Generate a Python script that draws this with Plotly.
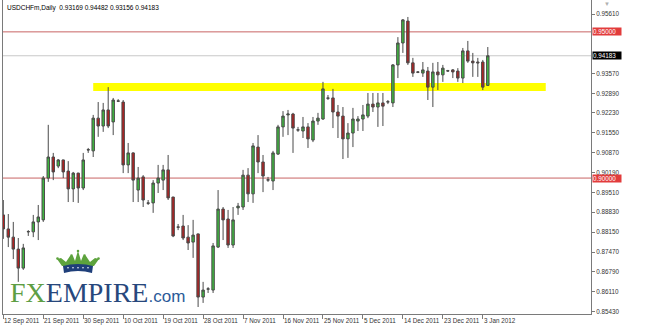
import plotly.graph_objects as go
import pandas as pd

# ---------------- data ----------------
symbol_title = "USDCHFm,Daily  0.93169 0.94482 0.93156 0.94183"

_days = pd.date_range("2011-09-12", "2012-01-04", freq="D")
dates = [d for d in _days if d.weekday() != 5 and not (d.month == 12 and d.day == 25)]

opens = [0.8874, 0.8826, 0.8798, 0.8757, 0.8692, 0.8816, 0.8816, 0.8850, 0.8857, 0.9000,
         0.9072, 0.9041, 0.9062, 0.9024, 0.8963, 0.9017, 0.8966, 0.9096, 0.9093, 0.9205,
         0.9178, 0.9233, 0.9192, 0.9264, 0.9260, 0.9045, 0.9086, 0.8959, 0.9004, 0.8915,
         0.8915, 0.8983, 0.8993, 0.9028, 0.8935, 0.8833, 0.8836, 0.8798, 0.8781, 0.8809,
         0.8593, 0.8620, 0.8617, 0.8764, 0.8894, 0.8860, 0.8771, 0.8898, 0.8901, 0.9010,
         0.8946, 0.9106, 0.9055, 0.8993, 0.8990, 0.9082, 0.9175, 0.9216, 0.9219, 0.9164,
         0.9161, 0.9175, 0.9130, 0.9195, 0.9202, 0.9274, 0.9274, 0.9226, 0.9212, 0.9134,
         0.9154, 0.9195, 0.9202, 0.9212, 0.9253, 0.9243, 0.9257, 0.9260, 0.9257, 0.9387,
         0.9462, 0.9537, 0.9394, 0.9363, 0.9359, 0.9366, 0.9311, 0.9363, 0.9353, 0.9366,
         0.9370, 0.9366, 0.9342, 0.9435, 0.9400, 0.9397, 0.9397, 0.93169]
highs = [0.8925, 0.8877, 0.8850, 0.8795, 0.8775, 0.8822, 0.8874, 0.8908, 0.9007, 0.9182,
         0.9086, 0.9065, 0.9063, 0.9058, 0.9021, 0.9018, 0.9086, 0.9103, 0.9216, 0.9260,
         0.9257, 0.9311, 0.9274, 0.9270, 0.9267, 0.9120, 0.9088, 0.9038, 0.9010, 0.8925,
         0.8993, 0.9045, 0.9045, 0.9079, 0.8936, 0.8843, 0.8874, 0.8839, 0.8857, 0.8810,
         0.8645, 0.8627, 0.8778, 0.8959, 0.8901, 0.8891, 0.8901, 0.8915, 0.9028, 0.9034,
         0.9120, 0.9147, 0.9079, 0.9004, 0.9093, 0.9182, 0.9229, 0.9233, 0.9223, 0.9175,
         0.9209, 0.9188, 0.9209, 0.9223, 0.9329, 0.9284, 0.9305, 0.9250, 0.9243, 0.9188,
         0.9240, 0.9212, 0.9250, 0.9291, 0.9291, 0.9291, 0.9291, 0.9267, 0.9390, 0.9482,
         0.9544, 0.9551, 0.9411, 0.9366, 0.9397, 0.9380, 0.9394, 0.9397, 0.9387, 0.9370,
         0.9373, 0.9376, 0.9445, 0.9469, 0.9428, 0.9411, 0.9404, 0.94482]
lows = [0.8792, 0.8764, 0.8723, 0.8645, 0.8686, 0.8802, 0.8798, 0.8788, 0.8850, 0.8987,
        0.8993, 0.9034, 0.9000, 0.8918, 0.8918, 0.8915, 0.8959, 0.9086, 0.9072, 0.9141,
        0.9158, 0.9171, 0.9147, 0.9260, 0.9017, 0.9017, 0.8918, 0.8918, 0.8901, 0.8908,
        0.8881, 0.8949, 0.8959, 0.8925, 0.8798, 0.8822, 0.8788, 0.8754, 0.8727, 0.8559,
        0.8573, 0.8607, 0.8607, 0.8761, 0.8788, 0.8761, 0.8761, 0.8874, 0.8891, 0.8918,
        0.8915, 0.9017, 0.8952, 0.8987, 0.8959, 0.9079, 0.9141, 0.9147, 0.9086, 0.9158,
        0.9137, 0.9103, 0.9123, 0.9182, 0.9199, 0.9267, 0.9171, 0.9137, 0.9065, 0.9069,
        0.9106, 0.9161, 0.9161, 0.9205, 0.9226, 0.9175, 0.9178, 0.9253, 0.9243, 0.9342,
        0.9428, 0.9387, 0.9346, 0.9359, 0.9346, 0.9267, 0.9243, 0.9301, 0.9329, 0.9363,
        0.9342, 0.9329, 0.9325, 0.9394, 0.9346, 0.9346, 0.9301, 0.93156]
closes = [0.8826, 0.8798, 0.8757, 0.8692, 0.8761, 0.8817, 0.8850, 0.8867, 0.9000, 0.9072,
          0.9021, 0.9062, 0.9021, 0.8963, 0.9017, 0.8966, 0.9062, 0.9097, 0.9205, 0.9178,
          0.9233, 0.9178, 0.9267, 0.9263, 0.9045, 0.9086, 0.8993, 0.9000, 0.8925, 0.8914,
          0.8983, 0.9000, 0.9028, 0.8932, 0.8802, 0.8832, 0.8795, 0.8778, 0.8805, 0.8593,
          0.8617, 0.8621, 0.8768, 0.8894, 0.8857, 0.8771, 0.8857, 0.8904, 0.9010, 0.8946,
          0.9110, 0.9055, 0.9007, 0.8994, 0.9086, 0.9175, 0.9212, 0.9219, 0.9171, 0.9165,
          0.9175, 0.9134, 0.9195, 0.9205, 0.9305, 0.9273, 0.9226, 0.9212, 0.9134, 0.9154,
          0.9202, 0.9202, 0.9216, 0.9253, 0.9243, 0.9257, 0.9246, 0.9261, 0.9387, 0.9462,
          0.9541, 0.9394, 0.9359, 0.9362, 0.9370, 0.9311, 0.9363, 0.9353, 0.9376, 0.9367,
          0.9363, 0.9342, 0.9435, 0.9400, 0.9394, 0.9394, 0.9311, 0.94183]

x_tick_index = [0, 8, 16, 24, 32, 40, 48, 56, 64, 72, 80, 88, 96]
x_tick_labels = ["12 Sep 2011", "21 Sep 2011", "30 Sep 2011", "10 Oct 2011", "19 Oct 2011",
                 "28 Oct 2011", "7 Nov 2011", "16 Nov 2011", "25 Nov 2011", "5 Dec 2011",
                 "14 Dec 2011", "23 Dec 2011", "3 Jan 2012"]
y_tick_values = [0.95610, 0.93570, 0.92890, 0.92230, 0.91550, 0.90870, 0.90190,
                 0.89510, 0.88830, 0.88150, 0.87470, 0.86790, 0.86110, 0.85430]

level_lines = [0.9500, 0.9000]
bid_price = 0.94183
zone_low, zone_high = 0.9298, 0.9325
zone_start, zone_end = 18.0, 108.6

# ---------------- figure ----------------
W, H = 645, 326
ML, MR, MT, MB = 3, 54, 0, 12
PW, PH = W - ML - MR, H - MT - MB


def px_x(px):
    return (px - ML) / PW


def px_y(py):
    return (MT + PH - py) / PH


xs = list(range(len(dates)))

fig = go.Figure()
fig.add_trace(go.Candlestick(
    x=xs, open=opens, high=highs, low=lows, close=closes,
    increasing=dict(line=dict(color="#4a4a4a", width=1), fillcolor="#3fb83f"),
    decreasing=dict(line=dict(color="#4a4a4a", width=1), fillcolor="#b02222"),
    whiskerwidth=0, hoverinfo="skip", showlegend=False,
))

shapes = []
shapes.append(dict(type="rect", xref="x", yref="y", x0=zone_start, x1=zone_end,
                   y0=zone_low, y1=zone_high, fillcolor="#ffff00", line=dict(width=0),
                   layer="below"))
for lv in level_lines:
    shapes.append(dict(type="line", xref="paper", yref="y", x0=0, x1=1, y0=lv, y1=lv,
                       line=dict(color="#c86464", width=1), layer="below"))
shapes.append(dict(type="line", xref="paper", yref="y", x0=0, x1=1, y0=bid_price, y1=bid_price,
                   line=dict(color="#c8c8c8", width=1), layer="below"))


# crown of logo (decoration) in pixel coordinates
def path_from(points):
    s = "M " + " L ".join(f"{px_x(a):.5f},{px_y(b):.5f}" for a, b in points) + " Z"
    return s


crown_green = [(62, 266), (57, 259), (61, 258), (66, 262), (70, 256), (73, 256), (75, 261),
               (77, 254), (78, 251), (79, 254), (81, 261), (83, 256), (86, 256), (90, 262),
               (95, 258), (99, 259), (94, 266)]
crown_band = [(63, 266), (70, 264.5), (78, 264), (86, 264.5), (93, 266), (92, 273),
              (85, 271.5), (78, 271), (71, 271.5), (64, 273)]
shapes.append(dict(type="path", xref="paper", yref="paper", path=path_from(crown_green),
                   fillcolor="#5da33d", line=dict(width=0)))
shapes.append(dict(type="path", xref="paper", yref="paper", path=path_from(crown_band),
                   fillcolor="#1f3f7a", line=dict(width=0)))
for cx in [68, 73, 78, 83, 88]:
    shapes.append(dict(type="circle", xref="paper", yref="paper",
                       x0=px_x(cx - 0.8), x1=px_x(cx + 0.8), y0=px_y(268.5), y1=px_y(266.9),
                       fillcolor="#ffffff", line=dict(width=0)))
for cx, cy in [(57.5, 258.5), (98.5, 258.5), (71.5, 255.5), (84.5, 255.5), (78, 251)]:
    shapes.append(dict(type="circle", xref="paper", yref="paper",
                       x0=px_x(cx - 1.3), x1=px_x(cx + 1.3), y0=px_y(cy + 1.3), y1=px_y(cy - 1.3),
                       fillcolor="#5da33d", line=dict(width=0)))

annotations = []
small_font = "Liberation Sans, Arial, sans-serif"
annotations.append(dict(text=symbol_title, xref="paper", yref="paper", x=px_x(5), y=px_y(8),
                        xanchor="left", yanchor="middle", showarrow=False,
                        font=dict(family=small_font, size=6.5, color="#000000")))
for idx, lab in zip(x_tick_index, x_tick_labels):
    annotations.append(dict(text=lab, xref="x", yref="paper", x=idx, y=0, xanchor="left",
                            yanchor="top", showarrow=False, xshift=-1, yshift=-1,
                            font=dict(family=small_font, size=6.3, color="#333333")))
for val, bg in [(0.9500, "#e23c3c"), (bid_price, "#000000"), (0.9000, "#e23c3c")]:
    annotations.append(dict(text=f"{val:.5f}", xref="paper", yref="y", x=1, y=val,
                            xanchor="left", yanchor="middle", showarrow=False, xshift=1,
                            bgcolor=bg, borderpad=0, width=28, align="left",
                            font=dict(family=small_font, size=6.3, color="#ffffff")))
annotations.append(dict(
    text=("<span style='color:#5e9e44'>FX</span><span style='color:#27477c'>EMPIRE</span>"
          "<span style='color:#2b5a98;font-size:17px;font-family:Liberation Sans'>.com</span>"),
    xref="paper", yref="paper", x=px_x(8), y=px_y(310), xanchor="left", yanchor="bottom",
    showarrow=False, font=dict(family="Liberation Serif, Times New Roman, serif", size=28)))
annotations.append(dict(text="\u25bc", xref="paper", yref="paper", x=px_x(607), y=px_y(4),
                        xanchor="center", yanchor="middle", showarrow=False,
                        font=dict(size=6, color="#b0b0b0")))

fig.update_layout(
    width=W, height=H, margin=dict(l=ML, r=MR, t=MT, b=MB, pad=0),
    paper_bgcolor="#ffffff", plot_bgcolor="#ffffff",
    shapes=shapes, annotations=annotations, showlegend=False,
    xaxis=dict(range=[-0.06, 117.66], showgrid=False, zeroline=False, showline=True,
               linecolor="#7a7a7a", linewidth=1, mirror=True, ticks="outside", ticklen=4,
               tickcolor="#7a7a7a", tickvals=x_tick_index, showticklabels=False,
               rangeslider=dict(visible=False), fixedrange=True),
    yaxis=dict(range=[0.85351, 0.9609], side="right", showgrid=False, zeroline=False,
               showline=True, linecolor="#7a7a7a", linewidth=1, mirror=True,
               ticks="outside", ticklen=3, tickcolor="#7a7a7a",
               tickvals=y_tick_values, ticktext=[f"{v:.5f}" for v in y_tick_values],
               tickfont=dict(family=small_font, size=6.3, color="#333333"), fixedrange=True),
)

fig.write_html("out.html")
